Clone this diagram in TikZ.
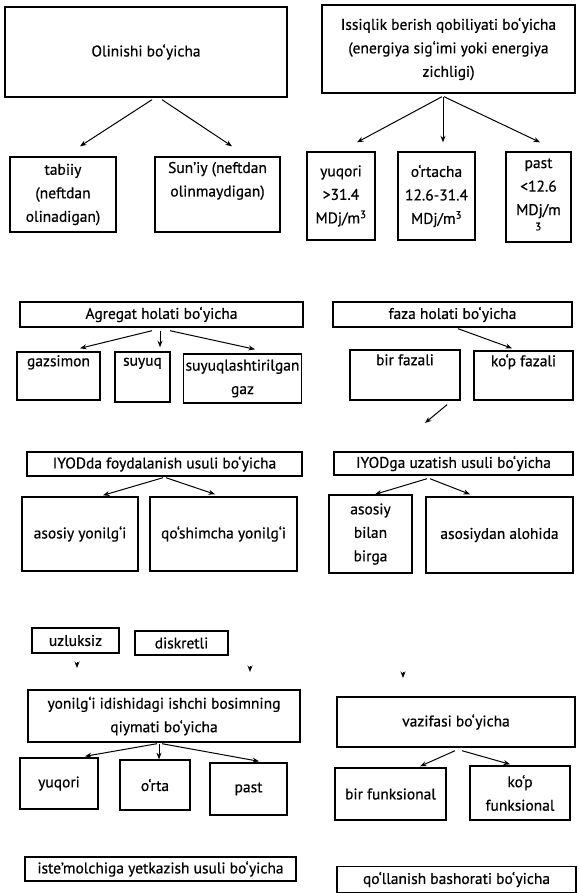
\documentclass[tikz,border=0pt]{standalone}
\usepackage{fontspec}
\setmainfont{PT Sans}[BoldFont=PT Sans,BoldFeatures={FakeBold=0.6}]
\usetikzlibrary{arrows.meta}
\begin{document}
\begin{tikzpicture}[x=1pt,y=-1pt,
    box/.style={draw,line width=1.4pt,align=center,inner sep=2pt,
      font=\fontsize{15.5}{23.5}\selectfont\bfseries},
    arr/.style={-{Stealth[length=6.5pt,width=5pt]},line width=1pt}]
  \useasboundingbox (0,0) rectangle (578,893);
  \draw
    (146,52) node[box,minimum width=282pt,minimum height=90pt] (olin){Olinishi bo‘yicha}
    (448.5,49) node[box,minimum width=253pt,minimum height=88pt] (issiq){Issiqlik berish qobiliyati bo‘yicha\\(energiya sig‘imi yoki energiya\\zichligi)}
    (63,194.5) node[box,minimum width=106pt,minimum height=75pt] (tabiiy){tabiiy\\(neftdan\\olinadigan)}
    (217.5,194.5) node[box,minimum width=125pt,minimum height=75pt] (suniy){Sun’iy (neftdan\\olinmaydigan)\\\strut}
    (341,196) node[box,minimum width=68pt,minimum height=88pt] (yuq1){yuqori\\>31.4\\MDj/m\textsuperscript{3}}
    (436.5,196) node[box,minimum width=77pt,minimum height=88pt] (ortacha){o‘rtacha\\12.6-31.4\\MDj/m\textsuperscript{3}}
    (538.5,197) node[box,minimum width=65pt,minimum height=90pt] (past1){past\\<12.6\\MDj/m\\[-3pt]\textsuperscript{3}}
    (161.5,314.5) node[box,minimum width=283pt,minimum height=25pt] (agregat){Agregat holati bo‘yicha}
    (58.5,376) node[box,minimum width=83pt,minimum height=48pt] (gaz){gazsimon\\\strut}
    (142.5,377) node[box,minimum width=55pt,minimum height=50pt] (suyuq){suyuq\\\strut}
    (242.5,378.5) node[box,minimum width=115pt,minimum height=49pt] (suyuqgaz){suyuqlashtirilgan\\gaz}
    (452.5,314.5) node[box,minimum width=239pt,minimum height=25pt] (faza){faza holati bo‘yicha}
    (405,375) node[box,minimum width=110pt,minimum height=50pt] (birfaz){bir fazali\\\strut}
    (523.5,375.5) node[box,minimum width=99pt,minimum height=49pt] (kopfaz){ko‘p fazali\\\strut}
    (164.5,464) node[box,minimum width=275pt,minimum height=24pt] (iyodda){IYODda foydalanish usuli bo‘yicha}
    (80,534) node[box,minimum width=116pt,minimum height=74pt] (asyon){asosiy yonilg‘i}
    (223.5,534) node[box,minimum width=147pt,minimum height=74pt] (qosh){qo‘shimcha yonilg‘i}
    (453.5,463.5) node[box,minimum width=239pt,minimum height=23pt] (iyodga){IYODga uzatish usuli bo‘yicha}
    (370.5,534) node[box,minimum width=83pt,minimum height=78pt] (asbir){asosiy\\bilan\\birga}
    (499.5,535) node[box,minimum width=147pt,minimum height=76pt] (asal){asosiydan alohida}
    (75.5,640.5) node[box,minimum width=87pt,minimum height=25pt] (uzl){uzluksiz}
    (181.5,643) node[box,minimum width=93pt,minimum height=24pt] (disk){diskretli}
    (164,716) node[box,minimum width=272pt,minimum height=52pt] (yonil){yonilg‘i idishidagi ishchi bosimning\\qiymati bo‘yicha}
    (59,783.5) node[box,minimum width=78pt,minimum height=51pt] (yuq2){yuqori}
    (155,785) node[box,minimum width=70pt,minimum height=50pt] (orta){o‘rta}
    (248.5,789) node[box,minimum width=77pt,minimum height=52pt] (past2){past}
    (456,722) node[box,minimum width=238pt,minimum height=50pt] (vazifa){vazifasi bo‘yicha}
    (390.5,794) node[box,minimum width=111pt,minimum height=52pt] (birfunk){bir funksional}
    (520,793) node[box,minimum width=100pt,minimum height=54pt] (kopfunk){ko‘p\\funksional}
    (160.5,869) node[box,minimum width=271pt,minimum height=24pt] (iste){iste’molchiga yetkazish usuli bo‘yicha}
    (456.5,879.5) node[box,minimum width=239pt,minimum height=26pt] (qoll){qo‘llanish bashorati bo‘yicha};
  \coordinate (bf) at (425,423);
  \coordinate (t1s) at (77,662);
  \coordinate (t1) at (77,668);
  \coordinate (t2s) at (250,666);
  \coordinate (t2) at (250,672);
  \coordinate (t3s) at (403,672);
  \coordinate (t3) at (403,678);
  \begin{scope}[arr]
    \draw ([shift={(6,2)}]olin.south) to ([shift={(17,-10)}]tabiiy.north);
    \draw ([shift={(16,2)}]olin.south) to ([shift={(14.5,-10)}]suniy.north);
    \draw ([shift={(-6.5,3)}]issiq.south) to ([shift={(16,-9)}]yuq1.north);
    \draw ([shift={(-5.5,3)}]issiq.south) to ([shift={(6.5,-9)}]ortacha.north);
    \draw ([shift={(-4.5,3)}]issiq.south) to ([shift={(1.5,-9)}]past1.north);
    \draw ([shift={(-9.5,3)}]agregat.south) to ([shift={(21.5,-3)}]gaz.north);
    \draw ([shift={(-1.5,3)}]agregat.south) to ([shift={(17.5,-4)}]suyuq.north);
    \draw ([shift={(8.5,3)}]agregat.south) to ([shift={(12.5,-4)}]suyuqgaz.north);
    \draw ([shift={(5.5,1)}]faza.south) to ([shift={(-11.5,-2)}]kopfaz.north);
    \draw ([shift={(42,4)}]birfaz.south) to (bf);
    \draw ([shift={(-1.5,1)}]iyodda.south) to ([shift={(23,-1)}]asyon.north);
    \draw ([shift={(1.5,1)}]iyodda.south) to ([shift={(-8.5,-2)}]qosh.north);
    \draw ([shift={(-26.5,3)}]iyodga.south) to ([shift={(4.5,0)}]asbir.north);
    \draw ([shift={(-23.5,3)}]iyodga.south) to ([shift={(-29.5,-2)}]asal.north);
    \draw (t1s) to (t1);
    \draw (t2s) to (t2);
    \draw (t3s) to (t3);
    \draw ([shift={(-7,1)}]yonil.south) to ([shift={(26,-1)}]yuq2.north);
    \draw ([shift={(-5,1)}]yonil.south) to ([shift={(4,0)}]orta.north);
    \draw ([shift={(-2,1)}]yonil.south) to ([shift={(10.5,-1)}]past2.north);
    \draw ([shift={(-1,3)}]vazifa.south) to ([shift={(29.5,-1)}]birfunk.north);
    \draw ([shift={(6,3)}]vazifa.south) to ([shift={(-10,-1)}]kopfunk.north);
  \end{scope}
\end{tikzpicture}
\end{document}
